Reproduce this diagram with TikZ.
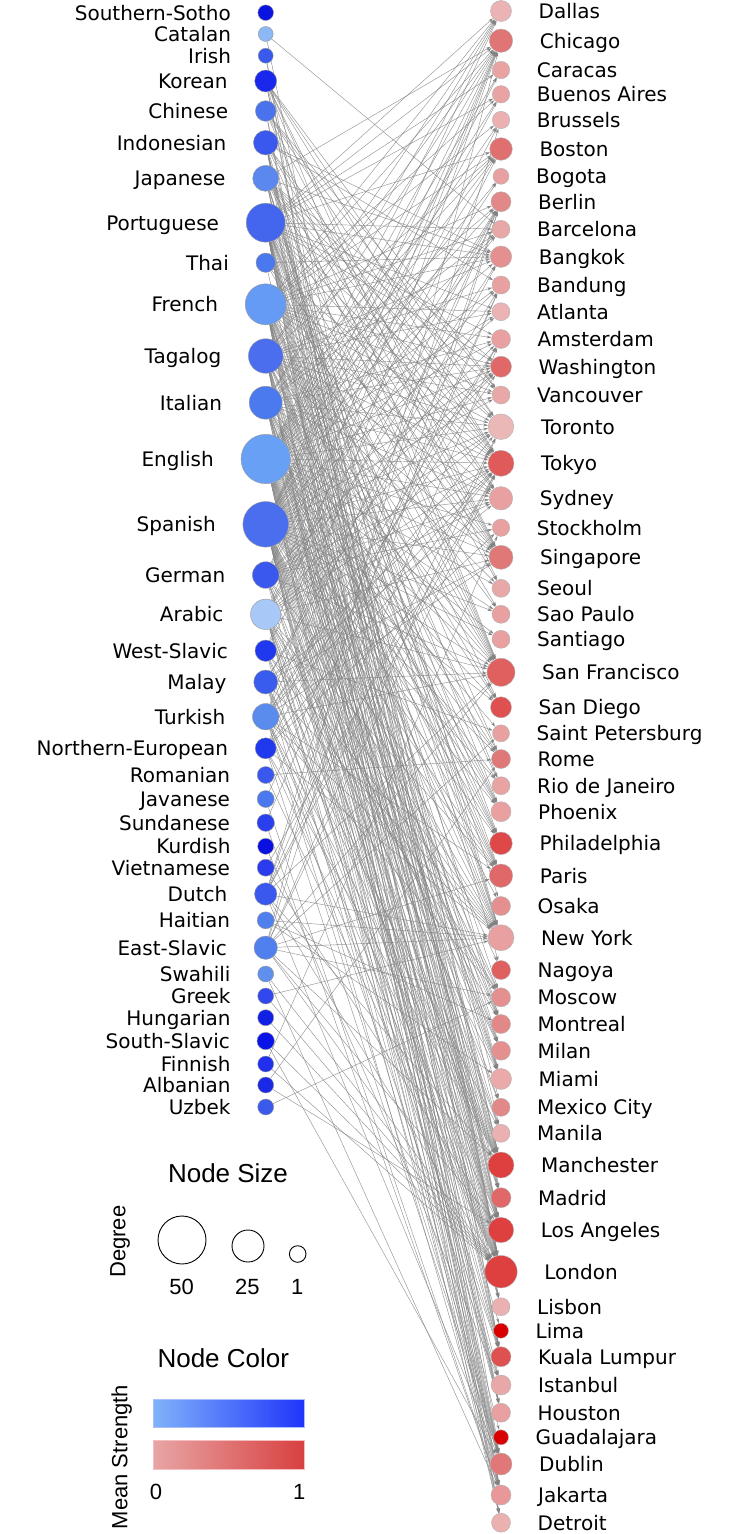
\documentclass[tikz,border=0pt]{standalone}
\usepackage{fontspec}
\setmainfont{DejaVu Sans}
\newfontfamily\legfont{Liberation Sans}
\usetikzlibrary{arrows.meta,backgrounds}
\definecolor{bluelo}{RGB}{128,178,250}
\definecolor{bluehi}{RGB}{32,53,250}
\definecolor{bluebd}{RGB}{170,190,250}
\definecolor{redlo}{RGB}{232,165,165}
\definecolor{redhi}{RGB}{216,64,64}
\definecolor{redbd}{RGB}{245,190,190}
\definecolor{edgecol}{RGB}{130,130,130}
\tikzset{
  lang/.style={circle, inner sep=0pt, draw=black!40, line width=0.4pt},
  city/.style={circle, inner sep=0pt, draw=black!30, line width=0.4pt},
  lablang/.style={anchor=base east, inner sep=0pt, font=\fontsize{20}{22}\selectfont},
  labcity/.style={anchor=base west, inner sep=0pt, font=\fontsize{20}{22}\selectfont},
  edge/.style={draw=edgecol, draw opacity=0.85, line width=0.45pt,
    -{Stealth[length=5pt,width=3pt]}},
  legtitle/.style={inner sep=0pt, font=\legfont\fontsize{26}{30}\selectfont},
  legtext/.style={inner sep=0pt, font=\legfont\fontsize{22}{26}\selectfont},
  legcirc/.style={circle, inner sep=0pt, draw=black, line width=0.9pt},
}
\begin{document}
\begin{tikzpicture}[x=1pt,y=-1pt]
\useasboundingbox (0,0) rectangle (733,1534);
% languages
\foreach \i/\name/\y/\r/\col in {
1/Southern-Sotho/12.7/7.8/0A14E0,
2/Catalan/34/7.5/8CB8F5,
3/Irish/55.7/7.5/3A5AEE,
4/Korean/81/11/1A28EE,
5/Chinese/111/10.3/4A72EC,
6/Indonesian/142.7/12.3/3A58EE,
7/Japanese/178.3/13/5A88EE,
8/Portuguese/222.7/19.5/4466EE,
9/Thai/262.7/9.7/4A78EE,
10/French/304.3/20.5/659AF5,
11/Tagalog/356/17.3/4A6EEE,
12/Italian/402.7/16.5/4A7AEE,
13/English/459/24.7/68A0F6,
14/Spanish/524.3/22.8/4A6EEE,
15/German/575/13.3/3A58EE,
16/Arabic/614.3/15.2/A8C8F8,
17/West-Slavic/650.7/10.7/2038EE,
18/Malay/682/12/3A5CEE,
19/Turkish/716.7/13.2/5A8CEE,
20/Northern-European/748.3/10.5/2038EE,
21/Romanian/775/8.5/3A58EE,
22/Javanese/799/8.5/4A78EE,
23/Sundanese/822.7/8.7/2A40EE,
24/Kurdish/846.3/8/0A10E0,
25/Vietnamese/867.7/8.5/2A3CEE,
26/Dutch/894/11.2/3A58EE,
27/Haitian/920.3/8.5/5080EE,
28/East-Slavic/947.7/11.7/5080EE,
29/Swahili/974/8/6090EE,
30/Greek/996/8/3048EE,
31/Hungarian/1017.7/8/1020E5,
32/South-Slavic/1041/8.7/0A14E8,
33/Finnish/1064/8/2030EE,
34/Albanian/1085/8/1A28E8,
35/Uzbek/1107/8/3A5AEE}{
  \definecolor{nc}{HTML}{\col}
  \pgfmathsetmacro\lx{238.7-\r}
  \pgfmathsetmacro\ly{\y+7.3}
  \node[lang, fill=nc, minimum size={2*\r pt}] (L\i) at (265.7,\y) {};
  \node[lablang] (TL\i) at (\lx,\ly) {\name};
}
% cities
\foreach \i/\name/\y/\r/\col in {
1/Dallas/11/10.5/EBB3B3,
2/Chicago/40.7/11.7/E07575,
3/Caracas/70/8.7/E9A3A3,
4/Buenos Aires/94.3/8.7/E9A3A3,
5/Brussels/120/8.7/EBB0B0,
6/Boston/149/11.3/E07070,
7/Bogota/176.3/8/E9A0A0,
8/Berlin/201.7/10/E38888,
9/Barcelona/229.3/9/E9A8A8,
10/Bangkok/256.7/10.7/E49090,
11/Bandung/285/9/E9A0A0,
12/Atlanta/311.7/9/EBB3B3,
13/Amsterdam/339/9.5/E9A0A0,
14/Washington/366.7/10.5/E06868,
15/Vancouver/395/9/E9A8A8,
16/Toronto/426.7/12.8/EBB8B8,
17/Tokyo/463.3/13/E05A5A,
18/Sydney/498.3/11.7/E9A0A0,
19/Stockholm/527.7/8.7/E9A0A0,
20/Singapore/557.3/12/E07878,
21/Seoul/588.3/9/E9A8A8,
22/Sao Paulo/614.3/9/E9A0A0,
23/Santiago/639.3/9/E9A0A0,
24/San Francisco/672.3/14/E06060,
25/San Diego/707.3/10.5/DF5050,
26/Saint Petersburg/733.3/8.5/E9A0A0,
27/Rome/759/9.5/E07878,
28/Rio de Janeiro/785.7/9/E9A3A3,
29/Phoenix/811.7/10/E9A0A0,
30/Philadelphia/843.3/11.3/DE4848,
31/Paris/875.7/11.7/E06868,
32/Osaka/906/9.5/E49090,
33/New York/937.7/13/E9A0A0,
34/Nagoya/970/9.5/E06060,
35/Moscow/997.3/9.5/E49090,
36/Montreal/1024/9.5/E38888,
37/Milan/1050.7/9.5/E49090,
38/Miami/1079/10.5/EBAAAA,
39/Mexico City/1107.3/9/E38888,
40/Manila/1133.3/9/EBB0B0,
41/Manchester/1165/13/DE4040,
42/Madrid/1197.7/10/E06868,
43/Los Angeles/1230/12.7/DE4040,
44/London/1271.7/16.2/DE4040,
45/Lisbon/1306.7/9/EBB0B0,
46/Lima/1330.7/7.5/D80000,
47/Kuala Lumpur/1356.7/10/DF5050,
48/Istanbul/1385/10/E9A8A8,
49/Houston/1412.7/9.5/E9A0A0,
50/Guadalajara/1437.3/7.5/D80000,
51/Dublin/1464/11/E07878,
52/Jakarta/1495/10/E89898,
53/Detroit/1522.7/9.5/EBB0B0}{
  \definecolor{nc}{HTML}{\col}
  \pgfmathsetmacro\lx{528+\r}
  \pgfmathsetmacro\ly{\y+7.3}
  \node[city, fill=nc, minimum size={2*\r pt}] (C\i) at (501,\y) {};
  \node[labcity] (TC\i) at (\lx,\ly) {\name};
}
% edges
\begin{scope}[on background layer]
\fill[white] (0,0) rectangle (733,1534);
\foreach \l/\targets in {
13/{1,2,3,4,5,6,7,8,9,10,11,12,13,14,15,16,17,18,19,20,21,22,23,24,25,26,27,28,29,30,31,32,33,34,35,36,37,38,39,40,41,42,43,44,45,47,48,49,51,52,53},
14/{1,2,3,4,6,7,9,11,12,14,15,16,17,18,20,22,23,24,25,27,28,29,30,31,33,35,36,37,38,39,40,41,42,43,44,45,46,47,49,50,51,52,53},
10/{1,2,4,5,6,8,9,10,12,13,14,15,16,17,18,20,22,24,25,27,28,29,30,31,33,35,36,37,38,41,42,43,44,45,47,49,51,52,53},
8/{1,2,3,4,6,9,10,12,13,14,16,17,18,20,22,24,25,27,28,29,30,31,33,36,38,39,41,42,43,44,45,47,49,51,52,53},
11/{1,2,6,10,11,12,14,15,16,17,18,20,21,24,25,29,30,31,33,38,40,41,43,44,47,49,51,52,53},
12/{1,2,6,8,9,13,14,16,17,18,20,24,27,29,30,31,33,36,37,38,41,42,43,44,45,49,51},
16/{2,6,8,10,14,16,17,18,20,24,31,33,35,36,38,41,43,44,47,48,51,52},
15/{2,5,8,13,14,16,17,18,19,24,31,33,37,41,43,44,51},
7/{2,10,14,15,16,17,18,20,21,24,32,33,34,41,43,44},
19/{2,8,13,14,16,17,20,24,31,33,35,41,43,44,48,51},
6/{10,11,17,18,20,24,33,40,41,43,44,47,52},
18/{10,11,17,18,20,24,33,40,41,44,47,52},
28/{2,8,16,17,24,26,31,33,35,41,43,44},
26/{5,8,13,16,17,24,33,41,44,51},
4/{15,16,17,20,21,24,33,43,44},
17/{2,8,26,33,35,41,44,51},
20/{8,13,17,19,33,41,44,51},
5/{15,16,17,20,24,44,47},
9/{10,17,20,24,44},
2/{9,42},
3/{44,51},
21/{27,44},
22/{11,52},
23/{11,52},
24/{48},
25/{17,43},
27/{33,36,38},
29/{44,52},
30/{33,44},
31/{44},
32/{44,51},
33/{19,44},
34/{27,43},
35/{35}}{
  \foreach \t in \targets { \draw[edge] (L\l) -- (C\t); }
}
\end{scope}
% legend
\node[legtitle] (nstitle) at (228,1173) {Node Size};
\node[legtext, rotate=90] (degree) at (120,1241.7) {Degree};
\node[legcirc, minimum size=48pt] (s50) at (182,1240) {};
\node[legcirc, minimum size=32pt] (s25) at (248,1246) {};
\node[legcirc, minimum size=16.6pt] (s1) at (297.7,1254) {};
\node[legtext] (n50) at (181.7,1286.7) {50};
\node[legtext] (n25) at (247.3,1286.7) {25};
\node[legtext] (n1) at (297.3,1286.7) {1};
\node[legtitle] (nctitle) at (223.3,1358.3) {Node Color};
\node[legtext, rotate=90] (meanstr) at (121.7,1457) {Mean Strength};
\shade[left color=bluelo, right color=bluehi] (153.3,1399.3) rectangle (304,1427.3);
\draw[draw=bluebd, line width=0.5pt] (153.3,1399.3) rectangle (304,1427.3);
\shade[left color=redlo, right color=redhi] (153.3,1440) rectangle (304,1469);
\draw[draw=redbd, line width=0.5pt] (153.3,1440) rectangle (304,1469);
\node[legtext] (z0) at (156,1491.7) {0};
\node[legtext] (z1) at (299.3,1491.7) {1};
\end{tikzpicture}
\end{document}
